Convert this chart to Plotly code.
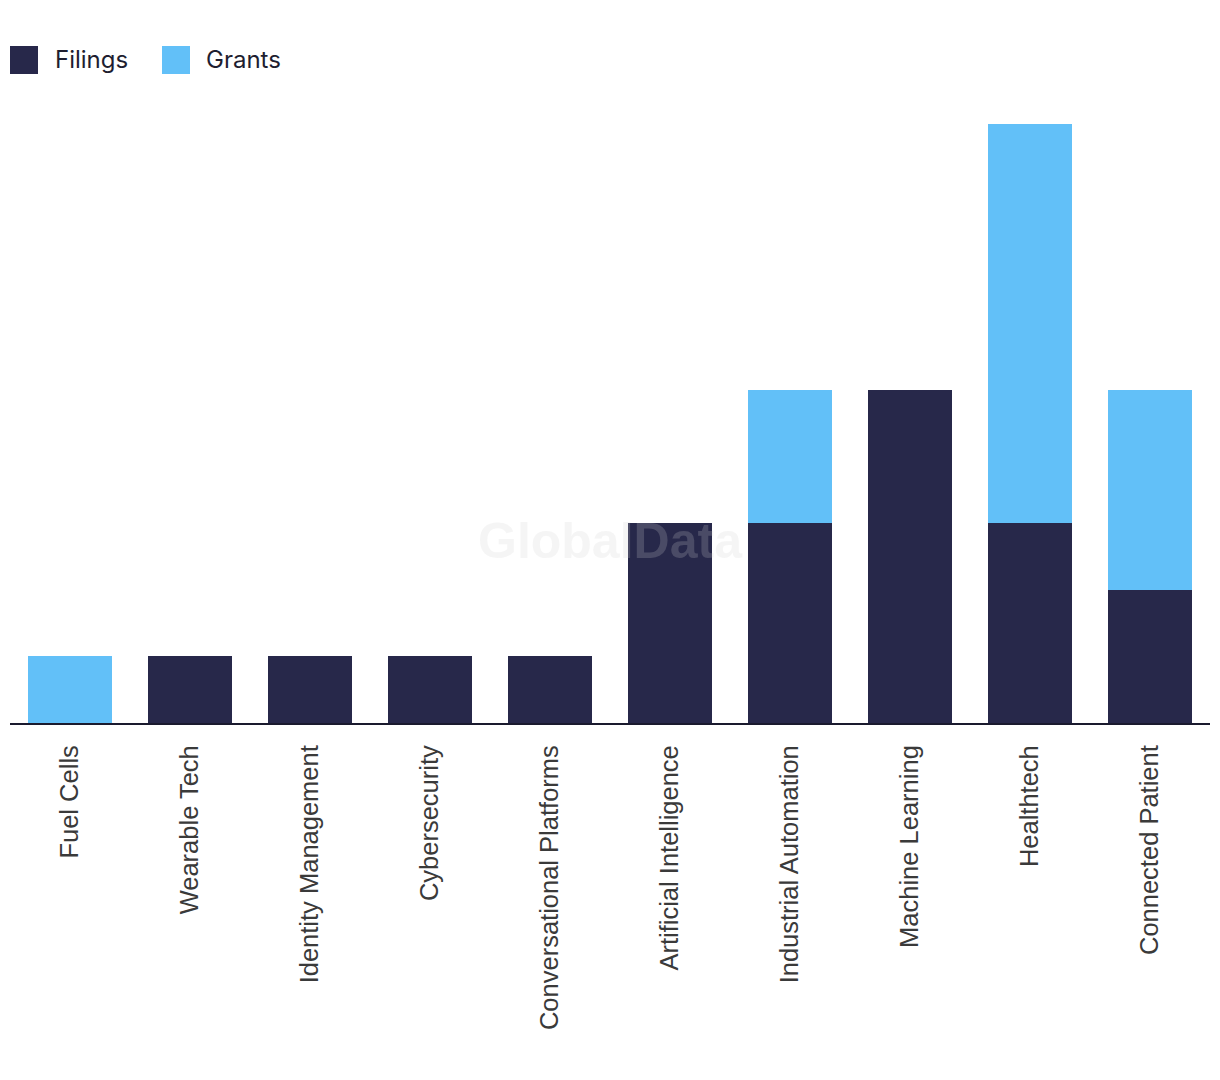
import plotly.graph_objects as go

categories = ["Fuel Cells", "Wearable Tech", "Identity Management", "Cybersecurity",
              "Conversational Platforms", "Artificial Intelligence", "Industrial Automation",
              "Machine Learning", "Healthtech", "Connected Patient"]
filings = [0, 1, 1, 1, 1, 3, 3, 5, 3, 2]
grants = [1, 0, 0, 0, 0, 0, 2, 0, 6, 3]

DARK = "#27284a"
LIGHT = "#62c0f8"

fig = go.Figure()
fig.add_trace(go.Bar(x=categories, y=filings, name="Filings", marker_color=DARK,
                     marker_line_width=0, showlegend=False))
fig.add_trace(go.Bar(x=categories, y=grants, name="Grants", marker_color=LIGHT,
                     marker_line_width=0, showlegend=False))

# page body has an 8px offset
OFF = 8
W, H = 1212, 1072
ml, mr, mt, mb = 10 - OFF, 10, 124 - OFF, 357


def px(x):
    return (x - OFF - ml) / (W - ml - mr)


def py(y):
    return (H - mb - (y - OFF)) / (H - mt - mb)


fig.update_layout(
    width=W, height=H,
    margin=dict(l=ml, r=mr, t=mt, b=mb, pad=0),
    barmode="stack", bargap=0.3,
    plot_bgcolor="white", paper_bgcolor="white",
    xaxis=dict(showgrid=False, showline=True, linecolor="#1a1a2e", linewidth=2,
               tickangle=-90, ticks="outside", ticklen=10, tickcolor="rgba(0,0,0,0)",
               tickfont=dict(family="Liberation Sans, Arial", size=25.5, color="#3a3a3a")),
    yaxis=dict(range=[0, 9], showgrid=False, showticklabels=False, zeroline=False,
               showline=False),
    showlegend=False,
)

# legend drawn as paper shapes + text
legend_items = [("Filings", DARK, 10, 55), ("Grants", LIGHT, 162, 206)]
for name, col, sx, tx in legend_items:
    fig.add_shape(type="rect", xref="paper", yref="paper",
                  x0=px(sx), x1=px(sx + 28), y0=py(74), y1=py(46),
                  fillcolor=col, line_width=0)
    fig.add_annotation(text=name, xref="paper", yref="paper",
                       x=px(tx), y=py(59),
                       xanchor="left", yanchor="middle", showarrow=False, xshift=-2,
                       font=dict(family="Inter", size=24, color="#1e1e30"))

fig.add_annotation(text="<b>GlobalData</b>", xref="paper", yref="paper",
                   x=px(610), y=py(541),
                   xanchor="center", yanchor="middle", showarrow=False,
                   font=dict(family="Liberation Sans, Arial", size=50,
                             color="rgba(207,207,210,0.21)"))

fig.write_html("out.html")
